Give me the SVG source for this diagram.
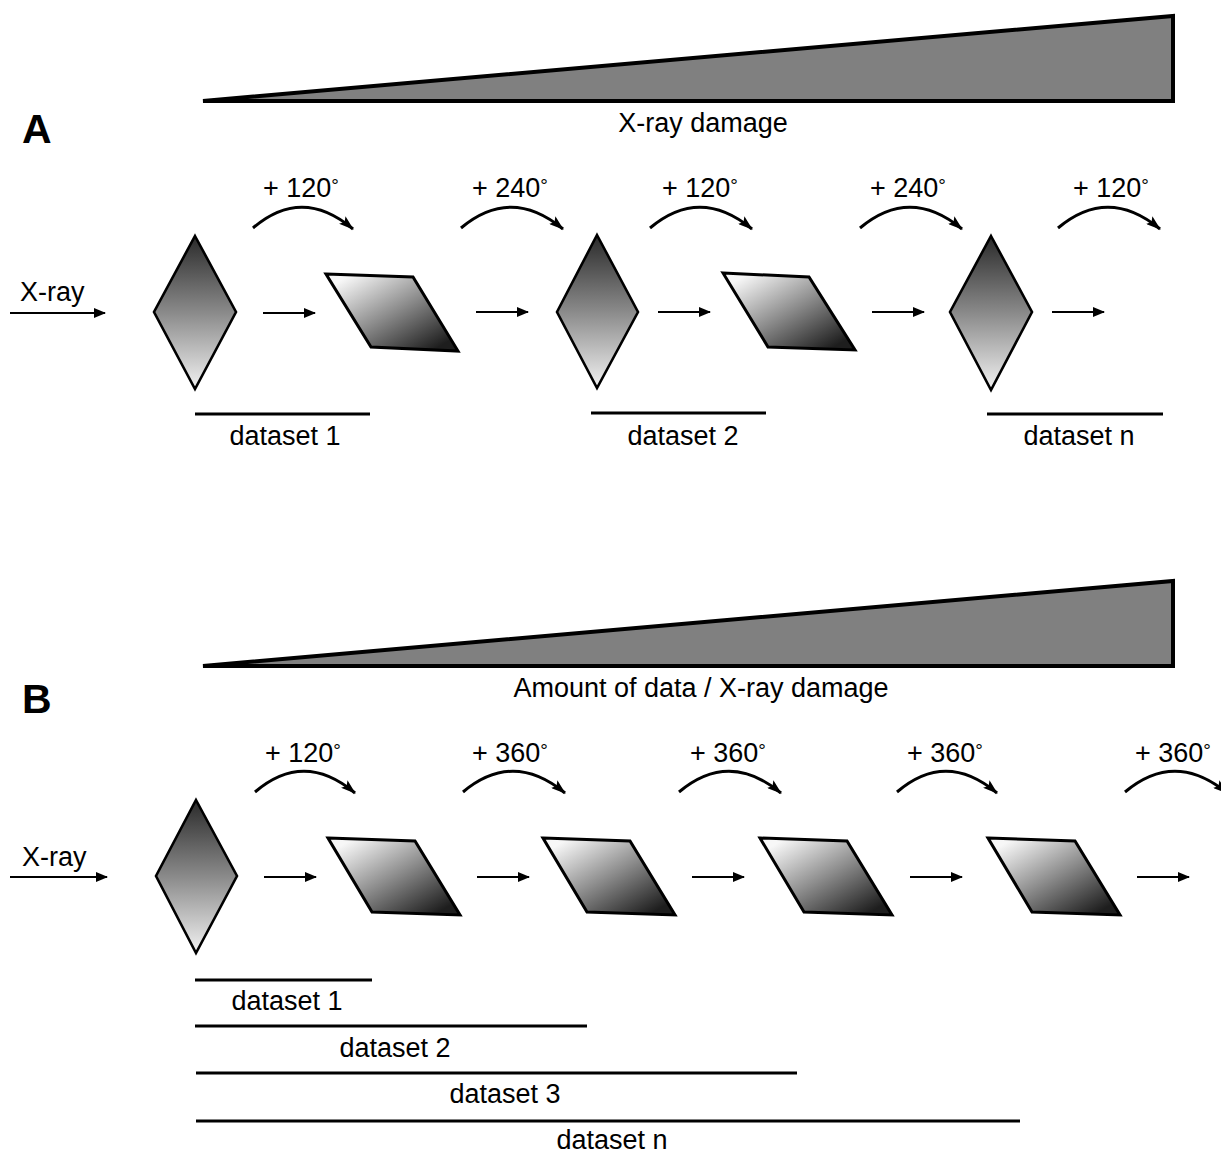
<svg xmlns="http://www.w3.org/2000/svg" width="1221" height="1153" viewBox="0 0 1221 1153">
<style>
text{font-family:"Liberation Sans",Arial,sans-serif;font-size:27px;fill:#000}
.big{font-size:41px;font-weight:bold}
.mid{text-anchor:middle}
.deg{font-size:19px}
.wedge{fill:#808080;stroke:#000;stroke-width:4;stroke-linejoin:miter}
.dia{fill:url(#gv);stroke:#000;stroke-width:2.6;stroke-linejoin:miter}
.par{fill:url(#gd);stroke:#000;stroke-width:3;stroke-linejoin:miter}
.arr{stroke:#000;stroke-width:2;fill:none;marker-end:url(#ah)}
.arc{stroke:#000;stroke-width:3;fill:none;marker-end:url(#ah2)}
.bar{stroke:#000;stroke-width:3}
</style>
<defs>
<linearGradient id="gv" x1="0" y1="0" x2="0" y2="1">
<stop offset="0" stop-color="#2a2a2a"/>
<stop offset="0.5" stop-color="#8a8a8a"/>
<stop offset="1" stop-color="#f2f2f2"/>
</linearGradient>
<linearGradient id="gd" x1="0.1" y1="0.1" x2="0.9" y2="0.9">
<stop offset="0" stop-color="#f7f7f7"/>
<stop offset="0.5" stop-color="#8c8c8c"/>
<stop offset="1" stop-color="#1e1e1e"/>
</linearGradient>
<marker id="ah" markerUnits="userSpaceOnUse" markerWidth="12" markerHeight="10" refX="11" refY="5" orient="auto">
<path d="M0,0 L12,5 L0,10 Z" fill="#000"/>
</marker>
<marker id="ah2" markerUnits="userSpaceOnUse" markerWidth="15" markerHeight="10" refX="14" refY="5" orient="auto">
<path d="M0,0 L15,5 L0,10 L3,5 Z" fill="#000"/>
</marker>
</defs>

<!-- Panel A -->
<g id="wedgeA"><polygon class="wedge" points="203,101 1173,16 1173,101"/></g>
<text x="703" y="132" class="mid">X-ray damage</text>
<text x="22" y="143" class="big">A</text>
<g id="xrayA"><text x="20" y="301">X-ray</text></g>

<g id="A_d1"><polygon class="dia" points="195,236 236,312 195,389 154,312"/></g>
<g id="A_p1"><polygon class="par" points="326,274 413,277 458,351 371,347"/></g>
<g id="A_d2"><polygon class="dia" points="597,235 638,312 597,388 557,312"/></g>
<g id="A_p2"><polygon class="par" points="723,273 809,277 855,350 768,347"/></g>
<g id="A_d3"><polygon class="dia" points="991,236 1032,312 991,390 950,312"/></g>

<g id="A_labels">
<text x="263" y="197">+ 120<tspan class="deg" dy="-5">°</tspan></text>
<text x="472" y="197">+ 240<tspan class="deg" dy="-5">°</tspan></text>
<text x="662" y="197">+ 120<tspan class="deg" dy="-5">°</tspan></text>
<text x="870" y="197">+ 240<tspan class="deg" dy="-5">°</tspan></text>
<text x="1073" y="197">+ 120<tspan class="deg" dy="-5">°</tspan></text>
</g>

<g id="A_datasets">
<line class="bar" x1="195" y1="414" x2="370" y2="414"/>
<text x="285" y="445" class="mid">dataset 1</text>
<line class="bar" x1="591" y1="413" x2="766" y2="413"/>
<text x="683" y="445" class="mid">dataset 2</text>
<line class="bar" x1="987" y1="414" x2="1163" y2="414"/>
<text x="1079" y="445" class="mid">dataset n</text>
</g>

<!-- Panel B -->
<g id="wedgeB"><polygon class="wedge" points="203,666 1173,581 1173,666"/></g>
<text x="701" y="697" class="mid">Amount of data / X-ray damage</text>
<text x="22" y="713" class="big">B</text>
<g id="xrayB"><text x="22" y="866">X-ray</text></g>

<g id="B_d1"><polygon class="dia" points="196,800 237,876 196,953 156,876"/></g>
<g id="B_p1"><polygon class="par" points="328,838 415,841 460,915 372,912"/></g>
<g id="B_p2"><polygon class="par" points="543,838 630,841 675,915 587,912"/></g>
<g id="B_p3"><polygon class="par" points="760,838 847,841 892,915 804,912"/></g>
<g id="B_p4"><polygon class="par" points="988,838 1075,841 1120,915 1032,912"/></g>

<g id="B_labels">
<text x="265" y="762">+ 120<tspan class="deg" dy="-5">°</tspan></text>
<text x="472" y="762">+ 360<tspan class="deg" dy="-5">°</tspan></text>
<text x="690" y="762">+ 360<tspan class="deg" dy="-5">°</tspan></text>
<text x="907" y="762">+ 360<tspan class="deg" dy="-5">°</tspan></text>
<text x="1135" y="762">+ 360<tspan class="deg" dy="-5">°</tspan></text>
</g>

<g id="B_datasets">
<line class="bar" x1="195" y1="980" x2="372" y2="980"/>
<text x="287" y="1010" class="mid">dataset 1</text>
<line class="bar" x1="195" y1="1026" x2="587" y2="1026"/>
<text x="395" y="1057" class="mid">dataset 2</text>
<line class="bar" x1="196" y1="1073" x2="797" y2="1073"/>
<text x="505" y="1103" class="mid">dataset 3</text>
<line class="bar" x1="196" y1="1121" x2="1020" y2="1121"/>
<text x="612" y="1149" class="mid">dataset n</text>
</g>

<g id="connectors">
<!-- Panel A -->
<line class="arr" x1="10" y1="313" x2="105" y2="313"/>
<line class="arr" x1="263" y1="313" x2="315" y2="313"/>
<line class="arr" x1="476" y1="312" x2="528" y2="312"/>
<line class="arr" x1="658" y1="312" x2="710" y2="312"/>
<line class="arr" x1="872" y1="312" x2="924" y2="312"/>
<line class="arr" x1="1052" y1="312" x2="1104" y2="312"/>
<path class="arc" d="M253,228 Q302,186 353,229"/>
<path class="arc" d="M461,228 Q511,186 563,229"/>
<path class="arc" d="M650,228 Q700,186 752,229"/>
<path class="arc" d="M860,228 Q910,186 962,229"/>
<path class="arc" d="M1058,228 Q1108,186 1160,229"/>
<!-- Panel B -->
<line class="arr" x1="10" y1="877" x2="107" y2="877"/>
<line class="arr" x1="264" y1="877" x2="316" y2="877"/>
<line class="arr" x1="477" y1="877" x2="529" y2="877"/>
<line class="arr" x1="692" y1="877" x2="744" y2="877"/>
<line class="arr" x1="910" y1="877" x2="962" y2="877"/>
<line class="arr" x1="1137" y1="877" x2="1189" y2="877"/>
<path class="arc" d="M255,792 Q304,750 355,793"/>
<path class="arc" d="M463,792 Q513,750 565,793"/>
<path class="arc" d="M679,792 Q729,750 781,793"/>
<path class="arc" d="M897,792 Q946,750 997,793"/>
<path class="arc" d="M1125,792 Q1175,750 1227,793"/>
</g>
</svg>
